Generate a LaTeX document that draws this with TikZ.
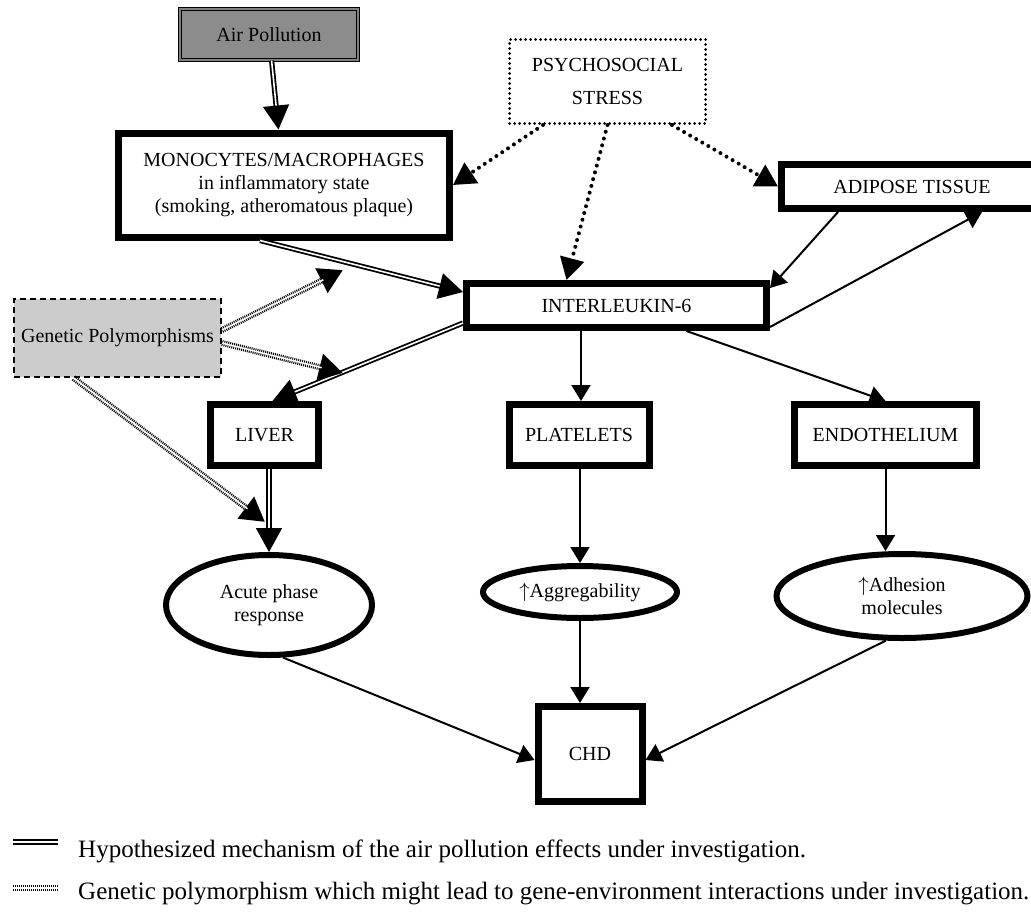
\documentclass[tikz,border=0pt]{standalone}
\usepackage{fontspec}
\setmainfont{Liberation Serif}
\usetikzlibrary{arrows.meta,shapes.geometric,positioning}
\newcommand{\diagfont}{\fontsize{20}{23}\selectfont}
\newcommand{\legfont}{\fontsize{25}{29}\selectfont}

\begin{document}
\begin{tikzpicture}[x=1pt,y=-1pt,
  box/.style={draw,line width=7pt,align=center,font=\diagfont,inner sep=0pt},
  oval/.style={ellipse,draw,line width=6pt,align=center,font=\diagfont,inner sep=0pt},
  arr/.style={line width=2pt,-{Triangle[length=16pt,width=19pt]}},
  hypo/.style={line width=1.8pt,double,double distance=1.6pt,-{Triangle[length=24pt,width=26pt]}},
  gene/.style={line width=6pt,dash pattern=on 1pt off 1pt,-{Triangle[length=24pt,width=26pt]},
    postaction={draw,white,solid,line width=1.5pt,-,shorten >=22pt}},
  stress/.style={line width=4pt,dash pattern=on 0pt off 7pt,line cap=round,-{Triangle[length=22pt,width=24pt]}}
]
  \useasboundingbox (0,0) rectangle (1031,919);
  % Exposures
  \node[draw,line width=1.2pt,double=gray,double distance=1.5pt,fill=gray!90,font=\diagfont,
    minimum width=178pt,minimum height=51pt] (air) at (269,34.5) {Air Pollution};
  \node[draw,line width=3pt,dash pattern=on 0pt off 5pt,line cap=round,align=center,font=\diagfont,
    minimum width=196pt,minimum height=84pt] (psych) at (607.5,81.5) {PSYCHOSOCIAL\\[10pt]STRESS};
  \node[draw,line width=2pt,dash pattern=on 6pt off 4pt,fill=gray!40,font=\diagfont,
    minimum width=207pt,minimum height=78pt] (genes) at (117.5,338) {Genetic Polymorphisms};
  % Sources of IL-6
  \node[box,minimum width=331pt,minimum height=104pt] (mono) at (284,185)
    {MONOCYTES/MACROPHAGES\\in inflammatory state\\(smoking, atheromatous plaque)};
  \node[box,minimum width=261pt,minimum height=44pt] (adip) at (912,186.5) {ADIPOSE TISSUE};
  \node[box,minimum width=300pt,minimum height=44pt] (il6) at (616.5,305.5) {INTERLEUKIN-6};
  % Targets
  \node[box,minimum width=108pt,minimum height=61pt] (liver) at (264.5,435) {LIVER};
  \node[box,minimum width=140pt,minimum height=61pt] (plat) at (579,435) {PLATELETS};
  \node[box,minimum width=182pt,minimum height=61pt] (endo) at (885.5,435) {ENDOTHELIUM};
  % Responses
  \node[oval,minimum width=206pt,minimum height=100pt] (acute) at (269,605) {Acute phase\\response};
  \node[oval,minimum width=194pt,minimum height=52pt] (aggr) at (580,592) {$\uparrow$Aggregability};
  \node[oval,minimum width=251pt,minimum height=84pt] (adh) at (902,596) {$\uparrow$Adhesion\\molecules};
  \node[box,minimum width=104pt,minimum height=95pt] (chd) at (590,754) {CHD};
  % Free ends of the gene arrows
  \coordinate (gtipa) at (343,270);
  \coordinate (gtipb) at (343,373);
  \coordinate (gtipc) at (265,522);

  % Hypothesized path
  \draw[hypo] (air) -- (mono);
  \draw[hypo] ([xshift=-24pt]mono.south) -- ([yshift=-12pt]il6.north west);
  \draw[hypo] ([yshift=8pt]il6.south west) -- ([xshift=8pt]liver.north);
  \draw[hypo] ([xshift=4.5pt]liver.south) -- (acute.north);
  % Stress
  \draw[stress] ([xshift=35pt]psych.south west) -- (mono.east);
  \draw[stress] (psych.south) -- ([xshift=-50pt]il6.north);
  \draw[stress] ([xshift=-35pt]psych.south east) -- (adip.west);
  % Genes
  \draw[gene] ([yshift=8pt]genes.east) -- (gtipa);
  \draw[gene] ([yshift=-5pt]genes.east) -- (gtipb);
  \draw[gene] ([xshift=-44pt]genes.south) -- (gtipc);
  % IL-6 loop and effects
  \draw[arr] ([xshift=-74pt]adip.south) -- ([yshift=-8pt]il6.north east);
  \draw[arr] ([yshift=4pt]il6.south east) -- ([xshift=70pt]adip.south);
  \draw[arr] ([xshift=2pt]plat.north |- il6.south) -- ([xshift=2pt]plat.north);
  \draw[arr] ([xshift=70pt]il6.south) -- (endo.north);
  \draw[arr] ([xshift=1pt]plat.south) -- ([xshift=1pt]plat.south |- aggr.north);
  \draw[arr] (endo.south) -- (endo.south |- adh.north);
  \draw[arr] (aggr.south) -- (aggr.south |- chd.north);
  \draw[arr] (acute.-75) -- ([yshift=-6pt]chd.west);
  \draw[arr] (adh.-110) -- ([yshift=-6pt]chd.east);

  % Legend
  \coordinate (lega) at (13,842);
  \coordinate (legb) at (58,842);
  \coordinate (legc) at (13,888);
  \coordinate (legd) at (58,888);
  \draw[line width=2pt,double,double distance=1.8pt] (lega) -- (legb);
  \draw[line width=6pt,dash pattern=on 1.2pt off 0.8pt,postaction={draw,white,solid,line width=1.2pt}] (legc) -- (legd);
  \node[anchor=west,font=\legfont,inner sep=0pt] (legtxta) at (78,851)
    {Hypothesized mechanism of the air pollution effects under investigation.};
  \node[anchor=west,font=\legfont,inner sep=0pt] (legtxtb) at (78,894)
    {Genetic polymorphism which might lead to gene-environment interactions under investigation.};
\end{tikzpicture}
\end{document}
